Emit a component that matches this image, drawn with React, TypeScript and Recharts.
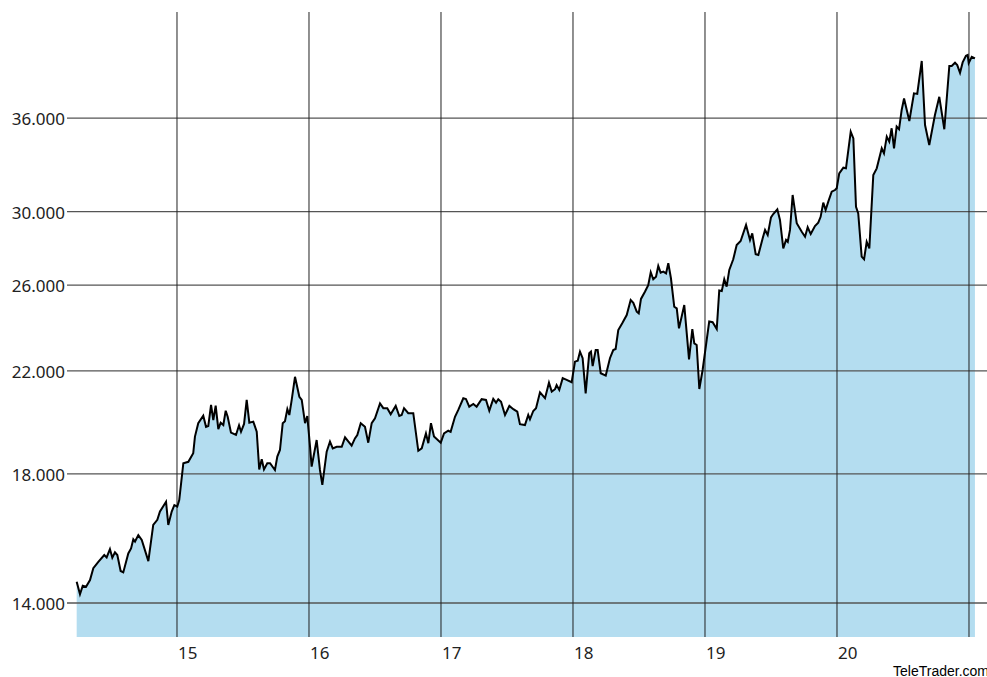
import React from "react";
import { ComposedChart, Area, Line, XAxis, YAxis, ReferenceLine } from "recharts";

// Dates as decimal years (14 = 2014), values of the index
const T: number[] = [
  14.240, 14.265, 14.286, 14.311, 14.341, 14.366, 14.404, 14.449, 14.467, 14.492,
  14.510, 14.530, 14.548, 14.573, 14.593, 14.631, 14.652, 14.669, 14.682, 14.707,
  14.733, 14.783, 14.820, 14.851, 14.871, 14.917, 14.934, 14.960, 14.980, 15.002,
  15.017, 15.048, 15.086, 15.123, 15.136, 15.161, 15.199, 15.220, 15.237, 15.258,
  15.275, 15.293, 15.313, 15.331, 15.351, 15.369, 15.384, 15.409, 15.447, 15.470,
  15.485, 15.508, 15.528, 15.548, 15.578, 15.604, 15.623, 15.642, 15.659, 15.684,
  15.705, 15.742, 15.760, 15.780, 15.801, 15.818, 15.836, 15.851, 15.869, 15.894,
  15.927, 15.945, 15.970, 15.987, 16.008, 16.020, 16.058, 16.083, 16.101, 16.134,
  16.159, 16.180, 16.210, 16.248, 16.273, 16.323, 16.348, 16.366, 16.392, 16.424,
  16.449, 16.475, 16.500, 16.538, 16.563, 16.593, 16.619, 16.657, 16.684, 16.702,
  16.720, 16.752, 16.790, 16.828, 16.854, 16.886, 16.904, 16.924, 16.947, 16.998,
  17.023, 17.055, 17.073, 17.106, 17.131, 17.169, 17.189, 17.214, 17.245, 17.270,
  17.308, 17.341, 17.366, 17.396, 17.417, 17.434, 17.455, 17.485, 17.518, 17.548,
  17.578, 17.598, 17.636, 17.661, 17.674, 17.699, 17.720, 17.750, 17.788, 17.818,
  17.839, 17.864, 17.876, 17.896, 17.922, 17.952, 17.990, 18.015, 18.036, 18.053,
  18.073, 18.096, 18.123, 18.136, 18.149, 18.172, 18.187, 18.210, 18.248, 18.280,
  18.305, 18.323, 18.343, 18.373, 18.407, 18.437, 18.457, 18.483, 18.498, 18.515,
  18.545, 18.570, 18.589, 18.608, 18.629, 18.646, 18.664, 18.684, 18.705, 18.722,
  18.742, 18.767, 18.786, 18.803, 18.843, 18.879, 18.904, 18.919, 18.937, 18.957,
  18.982, 19.013, 19.032, 19.058, 19.089, 19.108, 19.127, 19.146, 19.164, 19.184,
  19.214, 19.240, 19.270, 19.311, 19.341, 19.358, 19.384, 19.404, 19.437, 19.455,
  19.475, 19.500, 19.517, 19.548, 19.568, 19.593, 19.614, 19.627, 19.644, 19.664,
  19.695, 19.733, 19.758, 19.778, 19.801, 19.833, 19.858, 19.876, 19.896, 19.914,
  19.934, 19.960, 19.985, 19.998, 20.017, 20.048, 20.068, 20.104, 20.124, 20.144,
  20.161, 20.187, 20.205, 20.225, 20.245, 20.275, 20.301, 20.339, 20.356, 20.377,
  20.396, 20.414, 20.432, 20.452, 20.470, 20.490, 20.508, 20.548, 20.583, 20.608,
  20.642, 20.667, 20.699, 20.742, 20.775, 20.813, 20.851, 20.869, 20.894, 20.911,
  20.932, 20.952, 20.977, 20.990, 20.998, 21.021, 21.045,
];

const V: number[] = [
  14590, 14240, 14480, 14450, 14640, 14980, 15170, 15370, 15300, 15550,
  15290, 15450, 15370, 14900, 14860, 15420, 15570, 15850, 15780, 15980,
  15830, 15190, 16300, 16460, 16730, 17050, 16300, 16730, 16940, 16890,
  17110, 18380, 18430, 18740, 19360, 19870, 20160, 19730, 19760, 20590,
  19990, 20560, 19640, 19890, 19800, 20360, 20120, 19510, 19420, 19790,
  19540, 19840, 20790, 19890, 19930, 19540, 18160, 18520, 18160, 18380,
  18380, 18140, 18620, 18860, 19870, 19950, 20420, 20190, 20790, 21750,
  20920, 20790, 19870, 20150, 18980, 18260, 19230, 18140, 17620, 18800,
  19170, 18920, 18980, 18980, 19330, 19020, 19290, 19420, 19870, 19730,
  19130, 19870, 20060, 20650, 20460, 20460, 20220, 20550, 20150, 20190,
  20460, 20260, 20260, 18830, 18920, 19480, 19110, 19870, 19360, 19130,
  19480, 19580, 19540, 20120, 20390, 20860, 20830, 20520, 20630, 20520,
  20820, 20790, 20360, 20830, 20680, 20820, 20720, 20190, 20550, 20420,
  20320, 19830, 19800, 20190, 20020, 20350, 20460, 21100, 20860, 21500,
  21130, 21230, 21400, 21200, 21690, 21620, 21520, 22400, 22440, 22840,
  22550, 21060, 22770, 22840, 22210, 22910, 22910, 21900, 21800, 22550,
  22910, 22960, 23820, 24140, 24530, 25260, 25120, 24690, 24610, 25310,
  25670, 26000, 26660, 26300, 26430, 26990, 26640, 26690, 26600, 27130,
  26350, 24930, 24850, 23900, 25010, 22500, 23870, 23210, 23140, 21240,
  22040, 23370, 24220, 24190, 23870, 25730, 25700, 26300, 25920, 26780,
  27340, 28110, 28330, 29230, 28390, 28760, 27610, 27570, 28480, 28950,
  28670, 29670, 29860, 30140, 29520, 27930, 28390, 28290, 28950, 30990,
  29330, 28850, 28570, 29100, 28720, 29170, 29360, 29700, 30530, 30100,
  30590, 31190, 31290, 31400, 32320, 32680, 32640, 35050, 34600, 30280,
  29900, 27480, 27340, 28290, 27930, 32220, 32640, 33940, 33610, 34720,
  34380, 35290, 33940, 35400, 35220, 36570, 37400, 35790, 37770, 37730,
  40230, 35510, 34160, 36210, 37520, 35220, 39840, 39840, 40090, 39910,
  39320, 40120, 40640, 40700, 40070, 40560, 40430,
];

const xTicks: number[] = [15, 16, 17, 18, 19, 20, 21];
const xTickLabels: string[] = ["15", "16", "17", "18", "19", "20", ""];
const yTicks: number[] = [14000, 18000, 22000, 26000, 30000, 36000];
const yTickLabels: string[] = ["14.000", "18.000", "22.000", "26.000", "30.000", "36.000"];

const data = T.map((t, i) => ({ t, v: V[i] }));

const FONT = "'Noto Sans', 'Open Sans', sans-serif";

const YTick = (props: any) => {
  const { x, y, payload } = props;
  const idx = yTicks.indexOf(payload.value);
  return (
    <text x={x} y={y} dy={7} textAnchor="end" fontFamily={FONT} fontSize={17} fill="#222">
      {idx >= 0 ? yTickLabels[idx] : ""}
    </text>
  );
};

const XTick = (props: any) => {
  const { x, y, payload } = props;
  const idx = xTicks.indexOf(payload.value);
  return (
    <text x={x + 1} y={y} dy={22} textAnchor="start" fontFamily={FONT} fontSize={17} fill="#222">
      {idx >= 0 ? xTickLabels[idx] : ""}
    </text>
  );
};

export default function App() {
  return (
    <div style={{ position: "absolute", left: 0, top: 0, width: 987, height: 677, background: "#fff" }}>
      <ComposedChart
        width={987}
        height={677}
        data={data}
        margin={{ top: 12, right: 0, bottom: 0, left: 0 }}
      >
        <XAxis
          dataKey="t"
          type="number"
          domain={[14.1667, 21.1364]}
          ticks={xTicks}
          interval={0}
          allowDataOverflow
          axisLine={false}
          tickLine={false}
          tickSize={0}
          tickMargin={0}
          height={40}
          tick={<XTick />}
        />
        <YAxis
          dataKey="v"
          scale="log"
          domain={[13103, 44257]}
          ticks={yTicks}
          interval={0}
          allowDataOverflow
          axisLine={false}
          tickLine={false}
          tickSize={0}
          tickMargin={2}
          width={67}
          tick={<YTick />}
        />
        <Area
          dataKey="v"
          type="linear"
          stroke="none"
          fill="#b4ddf0"
          fillOpacity={1}
          isAnimationActive={false}
        />
        {yTicks.map((v) => (
          <ReferenceLine key={"h" + v} y={v} stroke="#555" strokeWidth={1.3} ifOverflow="extendDomain" />
        ))}
        {xTicks.map((t) => (
          <ReferenceLine key={"v" + t} x={t} stroke="#222" strokeWidth={1} ifOverflow="extendDomain" />
        ))}
        <Line
          dataKey="v"
          type="linear"
          stroke="#000"
          strokeWidth={2}
          dot={false}
          activeDot={false}
          isAnimationActive={false}
        />
      </ComposedChart>
      <svg width={987} height={677} style={{ position: "absolute", left: 0, top: 0, pointerEvents: "none" }}>
        <text x={893} y={676} fontFamily="Arial, 'Liberation Sans', sans-serif" fontSize={14} fill="#000">
          TeleTrader.com
        </text>
      </svg>
    </div>
  );
}
